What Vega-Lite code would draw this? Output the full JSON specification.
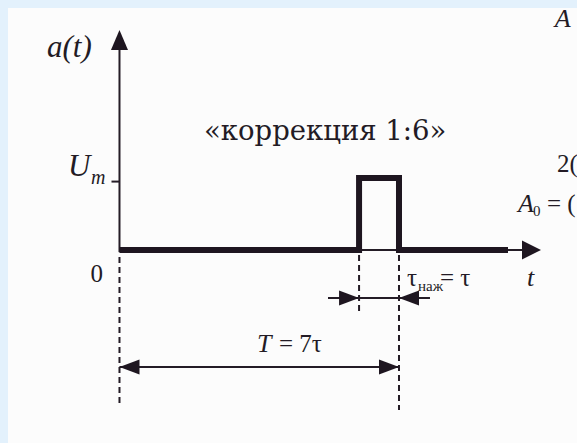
{
  "$schema": "https://vega.github.io/schema/vega-lite/v6.json",
  "width": 569,
  "height": 435,
  "autosize": "none",
  "padding": {"left": 8, "top": 8, "right": 0, "bottom": 0},
  "background": "#e3f1fc",
  "config": {"view": {"fill": "#fcfcfc", "stroke": null}},
  "datasets": {
    "signal": [
      {"t": 0, "a": 0, "k": 0},
      {"t": 6, "a": 0, "k": 1},
      {"t": 6, "a": 1, "k": 2},
      {"t": 7, "a": 1, "k": 3},
      {"t": 7, "a": 0, "k": 4},
      {"t": 9.73, "a": 0, "k": 5}
    ],
    "segments": [
      {"part": "t axis", "kind": "axis", "t": 0, "a": 0, "t2": 10.1, "a2": 0},
      {"part": "a axis", "kind": "axis", "t": 0, "a": -0.03, "t2": 0, "a2": 2.79},
      {"part": "Um tick", "kind": "axis", "t": -0.2, "a": 0.95, "t2": 0, "a2": 0.95},
      {"part": "pulse width", "kind": "dimension", "t": 5.222, "a": -0.667, "t2": 7.776, "a2": -0.667},
      {"part": "period", "kind": "dimension", "t": 0, "a": -1.625, "t2": 7, "a2": -1.625},
      {"part": "t = 0", "kind": "extension", "t": 0, "a": -0.097, "t2": 0, "a2": -2.153},
      {"part": "t = 6τ", "kind": "extension", "t": 6, "a": -0.069, "t2": 6, "a2": -0.861},
      {"part": "t = 7τ", "kind": "extension", "t": 7, "a": -0.069, "t2": 7, "a2": -2.222}
    ],
    "arrowheads": [
      {"t": 10.556, "a": 0, "dir": "axis-right"},
      {"t": 0, "a": 3.056, "dir": "axis-up"},
      {"t": 6, "a": -0.667, "dir": "dim-right"},
      {"t": 7, "a": -0.667, "dir": "dim-left"},
      {"t": 0, "a": -1.625, "dir": "dim-left"},
      {"t": 7, "a": -1.625, "dir": "dim-right"}
    ],
    "labels": [
      {"text": "a(t)", "t": -1.816, "a": 2.681, "role": "axisname"},
      {"text": "U", "t": -1.29, "a": 1.028, "role": "axisname"},
      {"text": "m", "t": -0.714, "a": 0.917, "role": "subvar"},
      {"text": "0", "t": -0.726, "a": -0.444, "role": "num"},
      {"text": "t", "t": 10.205, "a": -0.5, "role": "var"},
      {"text": "τ", "t": 7.2, "a": -0.5, "role": "num"},
      {"text": "наж", "t": 7.475, "a": -0.569, "role": "sub"},
      {"text": "= τ", "t": 8.027, "a": -0.5, "role": "num"},
      {"text": "T", "t": 3.443, "a": -1.417, "role": "var"},
      {"text": "= 7τ", "t": 3.995, "a": -1.417, "role": "num"},
      {"text": "A", "t": 9.978, "a": 0.528, "role": "var"},
      {"text": "0", "t": 10.354, "a": 0.472, "role": "sub"},
      {"text": "= (", "t": 10.706, "a": 0.528, "role": "num"},
      {"text": "2(", "t": 10.957, "a": 1.083, "role": "num"},
      {"text": "A", "t": 10.9, "a": 3.1, "role": "var"},
      {"text": "«коррекция 1:6»", "t": 2.116, "a": 1.528, "role": "caption"}
    ]
  },
  "layer": [
    {
      "data": {"name": "segments"},
      "transform": [{"filter": "datum.kind === 'extension'"}],
      "mark": {"type": "rule", "color": "#241c26", "strokeWidth": 2, "strokeDash": [6, 4]},
      "encoding": {
        "x": {"field": "t", "type": "quantitative", "scale": {"domain": [-2.792, 11.458], "nice": false, "zero": false}, "axis": null},
        "y": {"field": "a", "type": "quantitative", "scale": {"domain": [-2.681, 3.361], "nice": false, "zero": false}, "axis": null},
        "x2": {"field": "t2"},
        "y2": {"field": "a2"}
      }
    },
    {
      "data": {"name": "segments"},
      "transform": [{"filter": "datum.kind !== 'extension'"}],
      "mark": {"type": "rule", "color": "#241c26", "strokeWidth": 2},
      "encoding": {
        "x": {"field": "t", "type": "quantitative", "scale": {"domain": [-2.792, 11.458], "nice": false, "zero": false}, "axis": null},
        "y": {"field": "a", "type": "quantitative", "scale": {"domain": [-2.681, 3.361], "nice": false, "zero": false}, "axis": null},
        "x2": {"field": "t2"},
        "y2": {"field": "a2"}
      }
    },
    {
      "data": {"name": "signal"},
      "mark": {"type": "line", "color": "#1e1620", "strokeWidth": 6, "strokeJoin": "miter", "strokeCap": "butt"},
      "encoding": {
        "x": {"field": "t", "type": "quantitative", "scale": {"domain": [-2.792, 11.458], "nice": false, "zero": false}, "axis": null},
        "y": {"field": "a", "type": "quantitative", "scale": {"domain": [-2.681, 3.361], "nice": false, "zero": false}, "axis": null},
        "order": {"field": "k", "type": "quantitative"}
      }
    },
    {
      "data": {"name": "arrowheads"},
      "mark": {"type": "point", "filled": true, "color": "#1e1620", "opacity": 1, "size": 400, "strokeWidth": 0},
      "encoding": {
        "x": {"field": "t", "type": "quantitative", "scale": {"domain": [-2.792, 11.458], "nice": false, "zero": false}, "axis": null},
        "y": {"field": "a", "type": "quantitative", "scale": {"domain": [-2.681, 3.361], "nice": false, "zero": false}, "axis": null},
        "shape": {
          "field": "dir",
          "type": "nominal",
          "scale": {
            "domain": ["axis-right", "axis-up", "dim-right", "dim-left"],
            "range": ["M0,0L-1.9,-0.95L-1.9,0.95Z", "M0,0L-0.85,2L0.85,2Z", "M0,0L-2,-0.75L-2,0.75Z", "M0,0L2,-0.75L2,0.75Z"]
          },
          "legend": null
        }
      }
    },
    {
      "data": {"name": "labels"},
      "transform": [{"filter": "datum.role === 'axisname'"}],
      "mark": {"type": "text", "align": "left", "baseline": "alphabetic", "font": "Times New Roman, Liberation Serif, serif", "fontStyle": "italic", "fontSize": 31, "color": "#231b25"},
      "encoding": {
        "x": {"field": "t", "type": "quantitative", "scale": {"domain": [-2.792, 11.458], "nice": false, "zero": false}, "axis": null},
        "y": {"field": "a", "type": "quantitative", "scale": {"domain": [-2.681, 3.361], "nice": false, "zero": false}, "axis": null},
        "text": {"field": "text"}
      }
    },
    {
      "data": {"name": "labels"},
      "transform": [{"filter": "datum.role === 'var'"}],
      "mark": {"type": "text", "align": "left", "baseline": "alphabetic", "font": "Times New Roman, Liberation Serif, serif", "fontStyle": "italic", "fontSize": 26, "color": "#231b25"},
      "encoding": {
        "x": {"field": "t", "type": "quantitative", "scale": {"domain": [-2.792, 11.458], "nice": false, "zero": false}, "axis": null},
        "y": {"field": "a", "type": "quantitative", "scale": {"domain": [-2.681, 3.361], "nice": false, "zero": false}, "axis": null},
        "text": {"field": "text"}
      }
    },
    {
      "data": {"name": "labels"},
      "transform": [{"filter": "datum.role === 'subvar'"}],
      "mark": {"type": "text", "align": "left", "baseline": "alphabetic", "font": "Times New Roman, Liberation Serif, serif", "fontStyle": "italic", "fontSize": 20, "color": "#231b25"},
      "encoding": {
        "x": {"field": "t", "type": "quantitative", "scale": {"domain": [-2.792, 11.458], "nice": false, "zero": false}, "axis": null},
        "y": {"field": "a", "type": "quantitative", "scale": {"domain": [-2.681, 3.361], "nice": false, "zero": false}, "axis": null},
        "text": {"field": "text"}
      }
    },
    {
      "data": {"name": "labels"},
      "transform": [{"filter": "datum.role === 'num'"}],
      "mark": {"type": "text", "align": "left", "baseline": "alphabetic", "font": "Times New Roman, Liberation Serif, serif", "fontSize": 25, "color": "#231b25"},
      "encoding": {
        "x": {"field": "t", "type": "quantitative", "scale": {"domain": [-2.792, 11.458], "nice": false, "zero": false}, "axis": null},
        "y": {"field": "a", "type": "quantitative", "scale": {"domain": [-2.681, 3.361], "nice": false, "zero": false}, "axis": null},
        "text": {"field": "text"}
      }
    },
    {
      "data": {"name": "labels"},
      "transform": [{"filter": "datum.role === 'sub'"}],
      "mark": {"type": "text", "align": "left", "baseline": "alphabetic", "font": "Times New Roman, Liberation Serif, serif", "fontSize": 15, "color": "#231b25"},
      "encoding": {
        "x": {"field": "t", "type": "quantitative", "scale": {"domain": [-2.792, 11.458], "nice": false, "zero": false}, "axis": null},
        "y": {"field": "a", "type": "quantitative", "scale": {"domain": [-2.681, 3.361], "nice": false, "zero": false}, "axis": null},
        "text": {"field": "text"}
      }
    },
    {
      "data": {"name": "labels"},
      "transform": [{"filter": "datum.role === 'caption'"}],
      "mark": {"type": "text", "align": "left", "baseline": "alphabetic", "font": "DejaVu Serif, serif", "fontSize": 27.5, "color": "#231b25"},
      "encoding": {
        "x": {"field": "t", "type": "quantitative", "scale": {"domain": [-2.792, 11.458], "nice": false, "zero": false}, "axis": null},
        "y": {"field": "a", "type": "quantitative", "scale": {"domain": [-2.681, 3.361], "nice": false, "zero": false}, "axis": null},
        "text": {"field": "text"}
      }
    }
  ]
}
